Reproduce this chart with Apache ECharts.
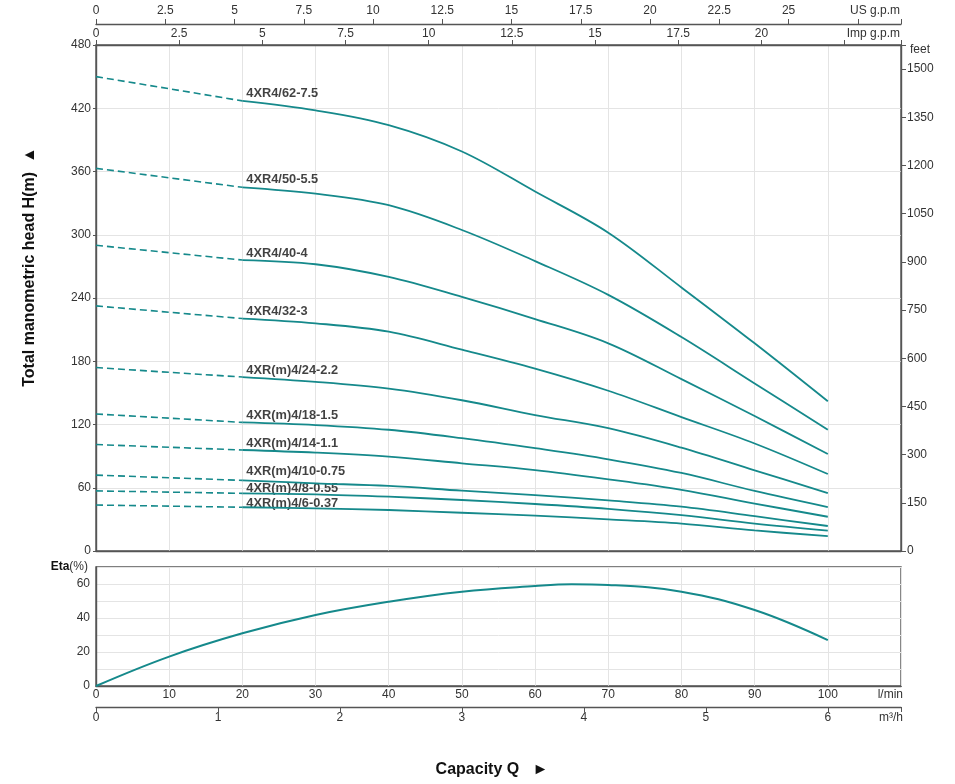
<!DOCTYPE html>
<html>
<head>
<meta charset="utf-8">
<script src="https://cdn.jsdelivr.net/npm/echarts@6/dist/echarts.min.js"></script>
<style>
html,body{margin:0;padding:0;background:#fff;}
#chart{width:955px;height:784px;}
</style>
</head>
<body>
<div id="chart"></div>
<script>
// ---------- DATA ----------
const pumpModels = ['4XR4/62-7.5','4XR4/50-5.5','4XR4/40-4','4XR4/32-3','4XR(m)4/24-2.2',
  '4XR(m)4/18-1.5','4XR(m)4/14-1.1','4XR(m)4/10-0.75','4XR(m)4/8-0.55','4XR(m)4/6-0.37'];
// flow (l/min) for the solid part of each curve
const flowLmin = [20, 30, 40, 50, 60, 70, 80, 90, 100];
// flow (l/min) for the dashed part (shut-off to start of working range)
const dashFlow = [0, 20];
// shut-off head (m) at Q = 0
const shutOffHead = [450, 363, 290, 232.5, 174, 130, 101, 72, 57, 43.6];
// head (m) at flowLmin
const h62 = [427, 418, 404, 379, 341, 302, 250, 197, 142];
const h50 = [345, 339, 328, 304.5, 275, 243, 203, 159, 115];
const h40 = [276, 272, 260, 241, 220, 197, 163, 128, 92];
const h32 = [220.5, 216, 208, 191, 173, 152, 127, 102, 73];
const h24 = [165, 160.5, 154, 143, 129, 116.5, 98, 76.5, 55];
const h18 = [122, 119.5, 115, 107, 97.5, 87, 74, 57, 41.7];
const h14 = [95.8, 93.3, 89.5, 83.2, 76.8, 68, 58, 45, 32.5];
const h10 = [67, 64.2, 61.7, 57.2, 53.1, 48, 42, 33, 23.7];
const h8  = [54.7, 53.8, 51.5, 48.4, 44.6, 40, 34, 26, 19.3];
const h6  = [41.5, 40.5, 38.9, 36.3, 33.5, 30, 26, 19.5, 14.2];
const headCurves = [h62, h50, h40, h32, h24, h18, h14, h10, h8, h6];
// efficiency curve
const etaFlow = [0, 10, 20, 30, 40, 50, 60, 65, 70, 80, 90, 100];
const etaVals = [0, 17.3, 31, 41.8, 49.6, 55.5, 58.8, 59.8, 59.4, 55.5, 44.7, 27];
// axis ranges / tick steps
const flowMax = 110;       // l/min
const headMax = 480;       // m
const etaMax = 70;         // %

// ---------- STYLE ----------
const LINE = '#15898b';
const FRAME = '#555';
const GRIDC = '#e4e4e4';
const TXT = '#333';
const FONT = 'Arial, "Liberation Sans", sans-serif';
const labelDy = [-7, -7.5, -7, -7, -7, -7, -7, -8.5, -4.5, -4];

const US_GAL = 3.78541, IMP_GAL = 4.54609, M3H = 1000 / 60, FT = 0.3048;

const axisLbl = (extra) => Object.assign({color: TXT, fontSize: 12, fontFamily: FONT}, extra || {});
const splitL = {show: true, lineStyle: {color: GRIDC, width: 1}};
const aLine = {show: true, onZero: false, lineStyle: {color: FRAME, width: 1.4}};

const series = [];
headCurves.forEach((h, i) => {
  series.push({
    type: 'line', xAxisIndex: 0, yAxisIndex: 0, showSymbol: false, silent: true,
    data: dashFlow.map((q, k) => [q, k === 0 ? shutOffHead[i] : h[0]]),
    lineStyle: {color: LINE, width: 1.6, type: [7, 4]}
  });
  series.push({
    type: 'line', xAxisIndex: 0, yAxisIndex: 0, showSymbol: false, silent: true,
    smooth: 0.35,
    data: flowLmin.map((q, k) => [q, h[k]]),
    lineStyle: {color: LINE, width: 1.8}
  });
});
series.push({
  type: 'scatter', xAxisIndex: 0, yAxisIndex: 0, symbolSize: 0, silent: true,
  data: pumpModels.map((m, i) => ({
    value: [flowLmin[0], headCurves[i][0]],
    label: {show: true, formatter: m, position: 'right', distance: 4, offset: [0, labelDy[i]],
      color: '#111', fontSize: 12.8, fontWeight: 'bold', fontFamily: FONT}
  }))
});
series.push({
  type: 'line', xAxisIndex: 3, yAxisIndex: 2, showSymbol: false, silent: true,
  smooth: 0.4,
  data: etaFlow.map((q, k) => [q, etaVals[k]]),
  lineStyle: {color: LINE, width: 2}
});

const option = {
  animation: false,
  backgroundColor: '#fff',
  grid: [
    {left: 96, right: 54, top: 45, height: 506, show: true, borderColor: FRAME, borderWidth: 1.4},
    {left: 96, right: 54, top: 567, height: 119, show: true, borderColor: FRAME, borderWidth: 1.4}
  ],
  xAxis: [
    {type: 'value', gridIndex: 0, min: 0, max: flowMax, interval: 10, position: 'bottom',
      axisLine: aLine, axisTick: {show: false},
      axisLabel: {show: false}, splitLine: splitL},
    {type: 'value', gridIndex: 0, min: 0, max: flowMax / IMP_GAL, interval: 2.5, position: 'top', offset: 0,
      axisLine: aLine,
      axisTick: {show: true, length: 5, inside: false, lineStyle: {color: FRAME}},
      axisLabel: axisLbl({margin: 5, formatter: v => v <= 20.01 ? String(v) : ''}),
      splitLine: {show: false},
      name: 'Imp g.p.m', nameLocation: 'end', nameGap: 0, nameMoveOverlap: false,
      nameTextStyle: {color: TXT, fontSize: 12, fontFamily: FONT, align: 'right', verticalAlign: 'bottom', padding: [0, 1, 5, 0]}},
    {type: 'value', gridIndex: 0, min: 0, max: flowMax / US_GAL, interval: 2.5, position: 'top', offset: 21,
      axisLine: aLine,
      axisTick: {show: true, length: 5, inside: false, lineStyle: {color: FRAME}},
      axisLabel: axisLbl({margin: 7, formatter: v => v <= 25.01 ? String(v) : ''}),
      splitLine: {show: false},
      name: 'US g.p.m', nameLocation: 'end', nameGap: 0, nameMoveOverlap: false,
      nameTextStyle: {color: TXT, fontSize: 12, fontFamily: FONT, align: 'right', verticalAlign: 'bottom', padding: [0, 1, 7, 0]}},
    {type: 'value', gridIndex: 1, min: 0, max: flowMax, interval: 10, position: 'bottom',
      axisLine: aLine, axisTick: {show: false},
      axisLabel: axisLbl({margin: 3, formatter: v => v <= 100 ? String(v) : ''}),
      splitLine: splitL,
      name: 'l/min', nameLocation: 'end', nameGap: 0, nameMoveOverlap: false,
      nameTextStyle: {color: TXT, fontSize: 12, fontFamily: FONT, align: 'right', verticalAlign: 'top', padding: [3, -2, 0, 0]}},
    {type: 'value', gridIndex: 1, min: 0, max: flowMax / M3H, interval: 1, position: 'bottom', offset: 21,
      axisLine: aLine,
      axisTick: {show: true, length: 5, inside: false, lineStyle: {color: FRAME}},
      axisLabel: axisLbl({margin: 5, formatter: v => v <= 6.001 ? String(v) : ''}),
      splitLine: {show: false},
      name: 'm³/h', nameLocation: 'end', nameGap: 0, nameMoveOverlap: false,
      nameTextStyle: {color: TXT, fontSize: 12, fontFamily: FONT, align: 'right', verticalAlign: 'top', padding: [5, -2, 0, 0]}}
  ],
  yAxis: [
    {type: 'value', gridIndex: 0, min: 0, max: headMax, interval: 60, position: 'left',
      axisLine: aLine,
      axisTick: {show: true, length: 3, lineStyle: {color: FRAME}},
      axisLabel: axisLbl({margin: 5}), splitLine: splitL},
    {type: 'value', gridIndex: 0, min: 0, max: headMax / FT, interval: 150, position: 'right',
      axisLine: aLine,
      axisTick: {show: true, length: 5, lineStyle: {color: FRAME}},
      axisLabel: axisLbl({margin: 6, formatter: v => (Math.abs(v % 150) < 1e-6 && v <= 1500) ? String(v) : ''}),
      splitLine: {show: false},
      name: 'feet', nameLocation: 'end', nameGap: 0, nameMoveOverlap: false,
      nameTextStyle: {color: TXT, fontSize: 12, fontFamily: FONT, align: 'left', verticalAlign: 'top', padding: [-1, 0, 0, 9]}},
    {type: 'value', gridIndex: 1, min: 0, max: etaMax, interval: 10, position: 'left',
      axisLine: aLine,
      axisTick: {show: false},
      axisLabel: axisLbl({margin: 6, formatter: v => (v % 20 === 0 && v <= 60) ? String(v) : ''}),
      splitLine: splitL,
      name: '{b|Eta}(%)', nameLocation: 'end', nameGap: 0, nameMoveOverlap: false,
      nameTextStyle: {color: TXT, fontSize: 12, fontFamily: FONT, align: 'right', verticalAlign: 'middle', padding: [0, 8, 0, 0],
        rich: {b: {fontWeight: 'bold', fontSize: 12, color: '#111', fontFamily: FONT}}}}
  ],
  graphic: [
    {type: 'text', x: 30, y: 267, rotation: Math.PI / 2,
      style: {text: 'Total manometric head H(m)  ▲', align: 'center', verticalAlign: 'middle',
        font: 'bold 16px ' + FONT, fill: '#111'}},
    {type: 'text', x: 492, y: 770,
      style: {text: 'Capacity Q   ►', align: 'center', verticalAlign: 'middle',
        font: 'bold 16px ' + FONT, fill: '#111'}}
  ],
  series: series
};

const chart = echarts.init(document.getElementById('chart'), null, {renderer: 'canvas'});
chart.setOption(option);
</script>
</body>
</html>
